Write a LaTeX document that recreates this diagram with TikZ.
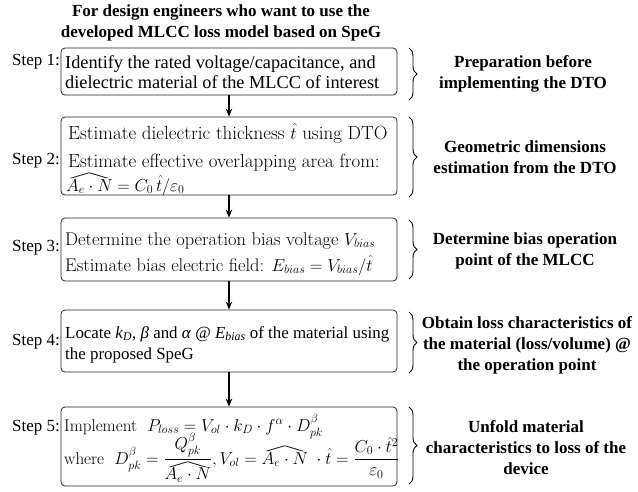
\documentclass[tikz,border=0pt]{standalone}
\usepackage{amsmath}
\usepackage{fontspec}
\newfontfamily\tms{Liberation Serif}[BoldFont={Liberation Serif Bold},ItalicFont={Liberation Serif Italic}]
\usetikzlibrary{arrows.meta,decorations.pathreplacing}
\newcommand\wh[1]{{\setbox0=\hbox{$#1$}\vbox{\offinterlineskip\hbox to\wd0{\resizebox{\wd0}{0.3em}{$\wedge$}}\kern0.6pt\box0}}}
\tikzset{
  stepbox/.style={draw=black!85, line width=0.8pt, rounded corners=4pt, minimum width=336pt, inner sep=0pt},
  tmsline/.style={font=\tms\fontsize{18.3}{21}\selectfont, anchor=base west, inner sep=0pt},
  tmsfour/.style={font=\tms\fontsize{16.9}{21}\selectfont, anchor=base west, inner sep=0pt},
  lmtwo/.style={font=\fontsize{19}{22}\selectfont, anchor=base west, inner sep=0pt},
  lmthree/.style={font=\fontsize{18.4}{22}\selectfont, anchor=base west, inner sep=0pt},
  lmfive/.style={font=\fontsize{17}{20}\selectfont, anchor=base west, inner sep=0pt},
  steplabel/.style={font=\tms\fontsize{17}{20}\selectfont, anchor=east, inner sep=0pt},
  righttext/.style={font=\tms\bfseries\fontsize{17}{21}\selectfont, align=center, inner sep=0pt},
  flow/.style={line width=1.2pt, -{Stealth[length=8pt,width=6.5pt]}},
  bracestyle/.style={line width=0.9pt, decorate, decoration={brace, amplitude=8pt}}
}
\begin{document}
\begin{tikzpicture}[x=1pt,y=-1pt]
\useasboundingbox (0,0) rectangle (638,491);
\node[righttext] (title) at (221,23) {For design engineers who want to use the\\developed MLCC loss model based on SpeG};

\node[stepbox, minimum height=47pt] (b1) at (229,71.5) {};
\node[stepbox, minimum height=78pt] (b2) at (229,156) {};
\node[stepbox, minimum height=63pt] (b3) at (229,249.5) {};
\node[stepbox, minimum height=62pt] (b4) at (229,341) {};
\node[stepbox, minimum height=79pt] (b5) at (229,446.5) {};

\node[tmsline] (t1a) at (65,68) {Identify the rated voltage/capacitance, and};
\node[tmsline] (t1b) at (65,88) {dielectric material of the MLCC of interest};

\node[lmtwo] (t2a) at (68,139) {Estimate dielectric thickness $\hat{t}$ using DTO};
\node[lmtwo] (t2b) at (68,167) {Estimate effective overlapping area from:};
\node[lmfive] (t2c) at (66,191) {$\wh{A_e\cdot N} = C_0\,\hat{t}/\varepsilon_0$};

\node[lmthree] (t3a) at (65,245) {Determine the operation bias voltage $V_{bias}$};
\node[lmthree] (t3b) at (65,271) {Estimate bias electric field: $E_{bias} = V_{bias}/\hat{t}$};

\node[tmsfour] (t4a) at (65,338) {Locate \textit{k}\textsubscript{\textit{D}}, \textit{β} and \textit{α} @ \textit{E}\textsubscript{\textit{bias}} of the material using};
\node[tmsfour] (t4b) at (65,359) {the proposed SpeG};

\node[lmfive] (t5a) at (64,431) {Implement\ \ $P_{loss} = V_{ol}\cdot k_D\cdot f^{\alpha}\cdot D_{pk}^{\beta}$};
\node[lmfive] (t5b) at (64,464) {where\ \ $D_{pk}^{\beta} = \dfrac{Q_{pk}^{\beta}}{\wh{A_e\cdot N}}, V_{ol} = \wh{A_e\cdot N}\;\cdot\hat{t} = \dfrac{C_0\cdot\hat{t}^2}{\varepsilon_0}$};

\draw[flow] (b1) -- (b2);
\draw[flow] (b2) -- (b3);
\draw[flow] (b3) -- (b4);
\draw[flow] (b4) -- (b5);

\node[steplabel] (s1) at (60,62) {Step 1:};
\node[steplabel] (s2) at (60,161) {Step 2:};
\node[steplabel] (s3) at (60,248) {Step 3:};
\node[steplabel] (s4) at (60,342) {Step 4:};
\node[steplabel] (s5) at (60,428) {Step 5:};

\coordinate (c1a) at (409,48);  \coordinate (c1b) at (409,100);
\coordinate (c2a) at (409,117); \coordinate (c2b) at (409,197);
\coordinate (c3a) at (409,220); \coordinate (c3b) at (409,279);
\coordinate (c4a) at (409,312); \coordinate (c4b) at (409,373);
\coordinate (c5a) at (409,407); \coordinate (c5b) at (409,484);
\draw[bracestyle] (c1a) -- (c1b);
\draw[bracestyle] (c2a) -- (c2b);
\draw[bracestyle] (c3a) -- (c3b);
\draw[bracestyle] (c4a) -- (c4b);
\draw[bracestyle] (c5a) -- (c5b);

\node[righttext] (r1) at (523,74) {Preparation before\\implementing the DTO};
\node[righttext] (r2) at (525,157) {Geometric dimensions\\estimation from the DTO};
\node[righttext] (r3) at (525,251) {Determine bias operation\\point of the MLCC};
\node[righttext] (r4) at (527,345) {Obtain loss characteristics of\\the material (loss/volume) @\\the operation point};
\node[righttext] (r5) at (526,448) {Unfold material\\characteristics to loss of the\\device};
\end{tikzpicture}
\end{document}
